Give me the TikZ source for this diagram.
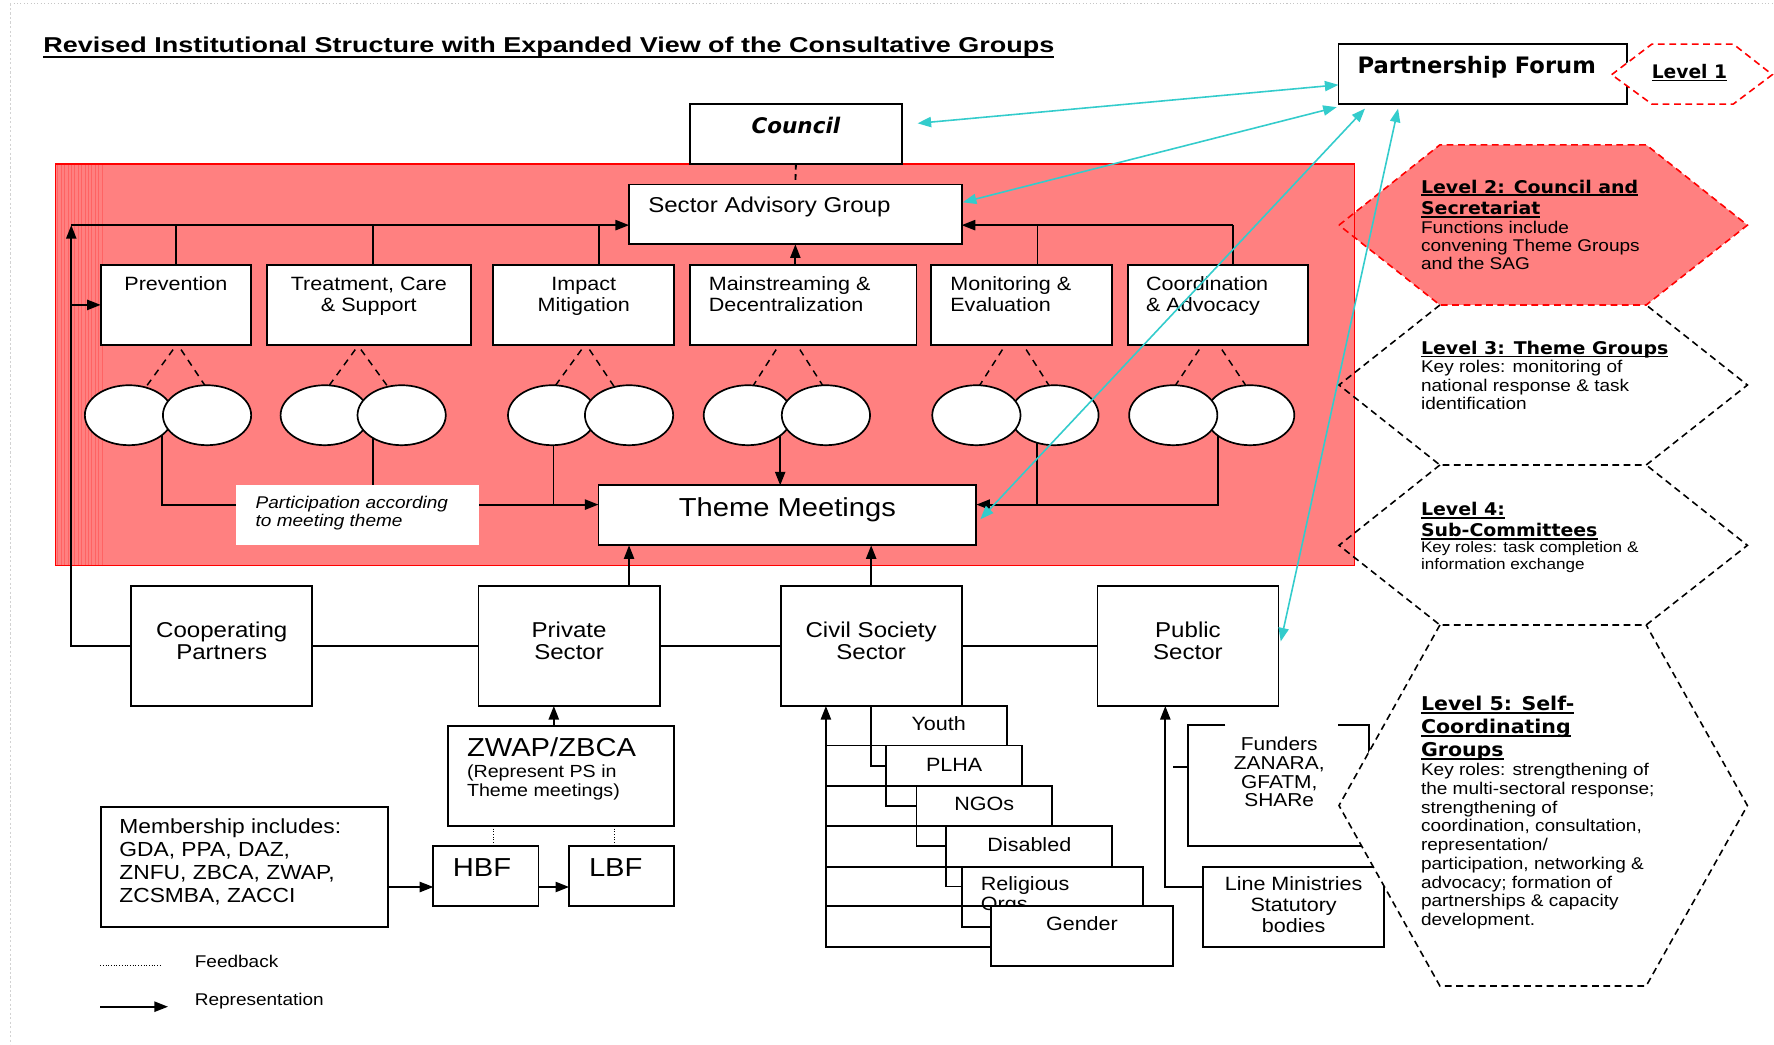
\documentclass[tikz,border=0pt]{standalone}
\usepackage{fontspec}
\usepackage{graphicx}
\setmainfont{Liberation Sans}[FakeStretch=1.12]
\newfontfamily\dvs{DejaVu Sans}[FakeStretch=1.08]
\newfontfamily\dvn{DejaVu Sans}
\usetikzlibrary{arrows.meta,calc,shapes.geometric}
\pgfdeclarelayer{back}
\pgfdeclarelayer{bg}
\pgfdeclarelayer{front}
\pgfsetlayers{back,bg,main,front}
\definecolor{salmon}{RGB}{255,128,128}
\definecolor{cyanl}{RGB}{51,204,204}
\newcommand\fsz[1]{\fontsize{#1}{#1}\selectfont}
\newcommand\hdf[1]{\dvs\bfseries\fontsize{#1}{#1}\selectfont}
\newcommand\bdf[1]{\normalfont\fontsize{#1}{#1}\selectfont}
\newcommand\cvt[2]{\vtop{\baselineskip=#1\relax\lineskiplimit=-40pt\relax\halign{\hfil##\hfil\cr#2\crcr}}}
\newcommand\lvt[2]{\vtop{\baselineskip=#1\relax\lineskiplimit=-40pt\relax\halign{##\hfil\cr#2\crcr}}}
\newcommand\uln[1]{\setbox0=\hbox{#1}\rlap{\rule[-2.8pt]{\wd0}{1.5pt}}\box0}
\newcommand\lyn[1]{\hbox{#1}}
\newcommand\rbox[6][]{\node[bx,minimum width={#4-#2},minimum height={#5-#3},#1] (#6) at ({(#2+#4)/2},{(#3+#5)/2}) {};}
\newcommand\hexg[4]{\path[#4] (1183.5,#2) -- (1272.7,#1) -- (1455,#1) -- (1544.5,#2) -- (1455,#3) -- (1272.7,#3) -- cycle;}
% hexagon outline without its top edge (shared with the one above)
\newcommand\hexnt[4]{\path[#4] (1272.7,#1) -- (1183.5,#2) -- (1272.7,#3) -- (1455,#3) -- (1544.5,#2) -- (1455,#1);}
\newcommand\dl[4]{\draw[dsh] (#1,309) -- (#3,342); \draw[dsh] (#2,309) -- (#4,342);}
\tikzset{
  bx/.style={draw=black, line width=1.6pt, fill=white, inner sep=0pt, outer sep=0pt, rectangle},
  tx/.style={inner sep=0pt, outer sep=0pt, anchor=base},
  txl/.style={inner sep=0pt, outer sep=0pt, anchor=base west},
  cn/.style={draw=black, line width=1.6pt},
  ar/.style={cn, -{Triangle[length=12pt,width=9pt]}},
  cyar/.style={draw=cyanl, line width=1.4pt, {Triangle[length=12pt,width=9pt]}-{Triangle[length=12pt,width=9pt]}},
  dsh/.style={draw=black, line width=1.3pt, dash pattern=on 6pt off 5pt},
  elp/.style={ellipse, draw=black, line width=1.5pt, fill=white, minimum width=78pt, minimum height=53pt, inner sep=0pt},
  hexo/.style={line width=1.4pt, dash pattern=on 6pt off 4pt},
}
\begin{document}
\begin{tikzpicture}[x=1pt,y=-1pt]
\useasboundingbox (0,0) rectangle (1568,923);
\begin{pgfonlayer}{back}
\fill[white] (0,0) rectangle (1568,923);
\draw[gray!45, line width=.7pt, dash pattern=on 1pt off 2pt] (9,3) -- (1568,3);
\draw[gray!35, line width=.7pt, dash pattern=on 2pt off 2pt] (9,3) -- (9,923);
\hexg{128}{199}{269.6}{fill=salmon}
\hexg{269.6}{340.3}{411}{fill=white}
\hexg{411}{482}{552.4}{fill=white}
\draw[red, line width=1.2pt, fill=salmon] (49,145) rectangle (1197,500);
\foreach \i in {0,...,13} \draw[red, opacity=.22, line width=.5pt] ({51+3*\i},146) -- ({51+3*\i},499);
\end{pgfonlayer}

% title
\node[txl, font=\bfseries\fsz{19}] (title) at (38.4,46.6) {\scalebox{1.12}[1]{Revised Institutional Structure with Expanded View of the Consultative Groups}};
\draw[line width=1.8pt] ($(title.base west)+(0,3.4)$) -- ($(title.base east)+(0,3.4)$);

% top boxes
\rbox{610}{92}{797}{145}{council}
\node[tx, font=\dvn\bfseries\itshape\fsz{19}] (councilT) at (703.5,117.6) {Council};
\rbox{1183}{39}{1438}{92}{pf}
\node[txl, font=\dvn\bfseries\fsz{20}] (pfT) at (1200,64.8) {Partnership Forum};
\rbox{556}{163}{850}{216}{sag}
\node[txl, font=\fsz{19}] (sagT) at (573,188) {Sector Advisory Group};

% theme groups
\rbox{89}{234}{222}{305}{prev}
\node[tx, font=\fsz{17}] (prevT) at (155.5,257) {Prevention};
\rbox{236}{234}{416}{305}{treat}
\node[tx, font=\fsz{17}] (treatT) at (326,257) {\cvt{18.5pt}{Treatment, Care\cr \& Support}};
\rbox{436}{234}{596}{305}{impact}
\node[tx, font=\fsz{17}] (impactT) at (516,257) {\cvt{18.5pt}{Impact\cr Mitigation}};
\rbox{610}{234}{810}{305}{mainst}
\node[txl, font=\fsz{17}] (mainstT) at (626.5,257) {\lvt{18.5pt}{Mainstreaming \&\cr Decentralization}};
\rbox{823}{234}{983}{305}{monit}
\node[txl, font=\fsz{17}] (monitT) at (840,257) {\lvt{18.5pt}{Monitoring \&\cr Evaluation}};
\rbox{997}{234}{1156}{305}{coord}
\node[txl, font=\fsz{17}] (coordT) at (1013,257) {\lvt{18.5pt}{Coordination\cr \& Advocacy}};

% ellipses
\node[elp] (prevA) at (114,367) {};
\node[elp] (prevB) at (183,367) {};
\node[elp] (treatA) at (287,367) {};
\node[elp] (treatB) at (355,367) {};
\node[elp] (impactA) at (488,367) {};
\node[elp] (impactB) at (556,367) {};
\node[elp] (mainstA) at (661,367) {};
\node[elp] (mainstB) at (730,367) {};
\node[elp] (monitB) at (932,367) {};
\node[elp] (monitA) at (863,367) {};
\node[elp] (coordB) at (1105,367) {};
\node[elp] (coordA) at (1037,367) {};

% theme meetings + label
\rbox{529}{429}{863}{482}{theme}
\node[tx, font=\fsz{23}] (themeT) at (696,456.7) {Theme Meetings};
\rbox[draw=none]{209}{429}{423}{482}{plabel}
\node[txl, font=\itshape\fsz{15}] (plabelT) at (226,449.3) {\lvt{16pt}{Participation according\cr to meeting theme}};

% bottom row
\rbox{116}{518}{276}{624}{coop}
\node[tx, font=\fsz{19}] (coopT) at (196,563.3) {\cvt{19.5pt}{Cooperating\cr Partners}};
\rbox{423}{518}{583}{624}{priv}
\node[tx, font=\fsz{19}] (privT) at (503,563.3) {\cvt{19.5pt}{Private\cr Sector}};
\rbox{690}{518}{850}{624}{civil}
\node[tx, font=\fsz{19}] (civilT) at (770,563.3) {\cvt{19.5pt}{Civil Society\cr Sector}};
\rbox{970}{518}{1130}{624}{public}
\node[tx, font=\fsz{19}] (publicT) at (1050,563.3) {\cvt{19.5pt}{Public\cr Sector}};

% private sector detail
\rbox{396}{642}{596}{730}{zwap}
\node[txl, font=\fsz{23}] (zwapT) at (412.8,668.8) {ZWAP/ZBCA};
\node[txl, font=\fsz{15.5}] (zwapS) at (412.8,687) {\lvt{16.6pt}{(Represent PS in\cr Theme meetings)}};
\rbox{383}{748}{476}{801}{hbf}
\node[txl, font=\fsz{23}] (hbfT) at (400.3,774.8) {HBF};
\rbox{503}{748}{596}{801}{lbf}
\node[txl, font=\fsz{23}] (lbfT) at (520.6,774.8) {LBF};
\rbox{89}{713}{343}{819}{memb}
\node[txl, font=\fsz{18}] (membT) at (105.5,736.6) {\lvt{20.3pt}{Membership includes:\cr GDA, PPA, DAZ,\cr ZNFU, ZBCA, ZWAP,\cr ZCSMBA, ZACCI}};

% legend
\coordinate (lgA) at (88.5,853.8);
\coordinate (lgB) at (141.8,853.8);
\coordinate (lgC) at (88.5,889.8);
\coordinate (lgD) at (148.5,889.8);
\draw[line width=.9pt, dash pattern=on .8pt off 1.6pt] (lgA) -- (lgB);
\draw[ar] (lgC) -- (lgD);
\node[txl, font=\fsz{15}] (lgFT) at (172.2,855) {Feedback};
\node[txl, font=\fsz{15}] (lgRT) at (172.2,888.9) {Representation};

% civil society detail
\rbox{770}{624}{890}{659}{youth}
\node[tx, font=\fsz{17}] (youthT) at (829.7,645.8) {Youth};
\rbox{783}{659}{903}{695}{plha}
\node[tx, font=\fsz{17}] (plhaT) at (843.4,681.5) {PLHA};
\rbox{810}{695}{930}{730}{ngos}
\node[tx, font=\fsz{17}] (ngosT) at (869.9,716.8) {NGOs};
\rbox{836}{730}{983}{766}{disab}
\node[tx, font=\fsz{17}] (disabT) at (909.8,752.8) {Disabled};
\rbox{850}{766}{1010}{801}{relig}
\node[txl, font=\fsz{17}] (religT) at (867,787.5) {\lvt{17.7pt}{Religious\cr Orgs}};
\rbox{876}{801}{1037}{854}{gender}
\node[tx, font=\fsz{17}] (genderT) at (956.3,822.6) {Gender};

% public sector detail
\rbox[draw=none]{1050}{641}{1210}{748}{funders}
\draw[line width=1.6pt] ($(funders.north west)+(33,0)$) -- (funders.north west) -- (funders.south west) -- (funders.south east) -- (funders.north east) -- ($(funders.north east)+(-27,0)$);
\node[tx, font=\fsz{16.5}] (fundersT) at (1130.7,663.5) {\cvt{16.5pt}{Funders\cr ZANARA,\cr GFATM,\cr SHARe}};
\rbox{1063}{766}{1223}{837}{linemin}
\node[tx, font=\fsz{17}] (lineminT) at (1143.4,787.2) {\cvt{18.6pt}{Line Ministries\cr Statutory\cr bodies}};

% ---------------- connectors (behind boxes)
\begin{pgfonlayer}{bg}
\draw[cn, dash pattern=on 5pt off 4pt] (council.south) -- (sag.north);
\coordinate (busL) at (63,199);
\draw[ar] (coop.west) -| (busL);
\draw[ar] (busL) -- (sag.west |- busL);
\draw[ar] (prev.west -| busL) -- (prev.west);
\draw[cn] (prev.north) -- (prev.north |- busL);
\draw[cn] ($(treat.north)+(3.5,0)$) -- ($(treat.north |- busL)+(3.5,0)$);
\draw[cn] ($(impact.north)+(13.5,0)$) -- ($(impact.north |- busL)+(13.5,0)$);
\coordinate (busR) at (1090,199);
\draw[ar] (busR) -- (sag.east |- busR);
\draw[cn] (busR) -- (busR |- coord.north);
\draw[cn] ($(monit.north)+(14,0)$) -- ($(monit.north |- busR)+(14,0)$);
\draw[ar] (sag.south |- mainst.north) -- (sag.south);
% dashed to sub-groups
\dl{153}{160}{129}{182}
\dl{314}{319}{290}{343}
\dl{514}{521}{490}{543}
\dl{686}{707}{665}{728}
\dl{886}{907}{865}{928}
\dl{1060}{1080}{1038}{1102}
% sub-groups to theme meetings
\coordinate (tmL) at (143,446);
\coordinate (tmR) at (1076.4,446);
\coordinate (tA) at (329.5,367);
\coordinate (tB) at (489.3,367);
\coordinate (tC) at (689.6,367);
\coordinate (tD) at (916.6,367);
\draw[ar] (tmL |- prevA.center) -- (tmL) -- (theme.west |- tmL);
\draw[cn] (tA) -- (tA |- tmL);
\draw[cn] (tB) -- (tB |- tmL);
\draw[ar] (tC) -- (tC |- theme.north);
\draw[cn] (tD) -- (tD |- tmR);
\draw[ar] (tmR |- coordA.center) -- (tmR) -- (theme.east |- tmR);
% bottom row
\coordinate (pu) at (556,0);
\draw[ar] (priv.north -| pu) -- (theme.south -| pu);
\draw[ar] (civil.north) -- (theme.south -| civil.north);
\draw[cn] (coop.east) -- (priv.west);
\draw[cn] (priv.east) -- (civil.west);
\draw[cn] (civil.east) -- (public.west);
% private sector
\coordinate (zu) at (489.5,0);
\draw[ar] (zwap.north -| zu) -- (priv.south -| zu);
\coordinate (dA) at (436,0);
\coordinate (dB) at (543,0);
\draw[line width=.9pt, dash pattern=on .8pt off 1.6pt] (zwap.south -| dA) -- (hbf.north -| dA);
\draw[line width=.9pt, dash pattern=on .8pt off 1.6pt] (zwap.south -| dB) -- (lbf.north -| dB);
\coordinate (hy) at (0,784);
\draw[ar] (memb.east |- hy) -- (hbf.west |- hy);
\draw[ar] (hbf.east |- hy) -- (lbf.west |- hy);
% civil society
\coordinate (cb) at (730,837);
\draw[ar] (gender.west |- cb) -- (cb) -- (cb |- civil.south);
\foreach \n in {youth,plha,ngos,disab,relig} \draw[cn] (cb |- \n.south west) -- (\n.south west);
\draw[cn] (youth.south west) |- (plha.west);
\draw[cn] (plha.south west) |- (ngos.west);
\draw[cn] (ngos.south west) |- (disab.west);
\draw[cn] (disab.south west) |- (relig.west);
\coordinate (gy) at (0,819);
\draw[cn] (relig.south west) |- (gender.west |- gy);
% public sector
\coordinate (pb) at (1030,784);
\draw[ar] (linemin.west |- pb) -- (pb) -- (pb |- public.south);
\coordinate (fs) at (1037,678);
\draw[cn] (fs) -- (funders.west |- fs);
\end{pgfonlayer}

% ---------------- level hexagons and cyan links
\begin{pgfonlayer}{front}
\hexg{552.4}{712}{871.5}{fill=white}
\hexnt{552.4}{712}{871.5}{draw=black, hexo}
\hexnt{411}{482}{552.4}{draw=black, hexo}
\hexnt{269.6}{340.3}{411}{draw=black, hexo}
\hexg{128}{199}{269.6}{draw=red, hexo}
\path[fill=white, draw=red, hexo] (1424.5,66) -- (1460,39) -- (1532,39) -- (1566.5,66) -- (1532,92) -- (1460,92) -- cycle;
\node[txl, font=\dvn\bfseries\fsz{16.5}] (l1t) at (1460,69.2) {\uln{Level 1}};
\node[txl] (l2t) at (1256,170.6) {\vtop{\lineskiplimit=-40pt\relax\hdf{15.5}\baselineskip=19.4pt\relax
  \lyn{\uln{Level 2: Council and}}\lyn{\uln{Secretariat}}%
  \bdf{15}\baselineskip=16.2pt\relax
  \lyn{Functions include}\lyn{convening Theme Groups}\lyn{and the SAG}}};
\node[txl] (l3t) at (1256,313) {\vtop{\lineskiplimit=-40pt\relax\hdf{15.5}\baselineskip=19.4pt\relax
  \lyn{\uln{Level 3: Theme Groups}}%
  \bdf{15}\baselineskip=16.4pt\relax
  \lyn{Key roles: monitoring of}\lyn{national response \& task}\lyn{identification}}};
\node[txl] (l4t) at (1256,456) {\vtop{\lineskiplimit=-40pt\relax\hdf{15.5}\baselineskip=18.3pt\relax
  \lyn{\uln{Level 4:}}\lyn{\uln{Sub-Committees}}%
  \bdf{13.5}\baselineskip=14.4pt\relax
  \lyn{Key roles: task completion \&}\lyn{information exchange}}};
\node[txl] (l5t) at (1256,628) {\vtop{\lineskiplimit=-40pt\relax\hdf{16.8}\baselineskip=20.4pt\relax
  \lyn{\uln{Level 5: Self-}}\lyn{\uln{Coordinating}}\lyn{\uln{Groups}}%
  \bdf{15}\baselineskip=16.6pt\relax
  \lyn{Key roles: strengthening of}\lyn{the multi-sectoral response;}\lyn{strengthening of}%
  \lyn{coordination, consultation,}\lyn{representation/}\lyn{participation, networking \&}%
  \lyn{advocacy; formation of}\lyn{partnerships \& capacity}\lyn{development.}}};
\coordinate (cz) at (811,109);
\draw[cyar] (cz) -- ($(pf.west)+(0,9.5)$);
\draw[cyar] ($(sag.east)+(1,-10.7)$) -- ($(pf.south west)+(-1.5,2.7)$);
\draw[cyar] ($(theme.east)+(3.5,3.5)$) -- ($(pf.south west)+(23.5,4)$);
\draw[cyar] ($(public.east)+(2,-4)$) -- ($(pf.south west)+(52.7,4)$);
\end{pgfonlayer}
\end{tikzpicture}
\end{document}
